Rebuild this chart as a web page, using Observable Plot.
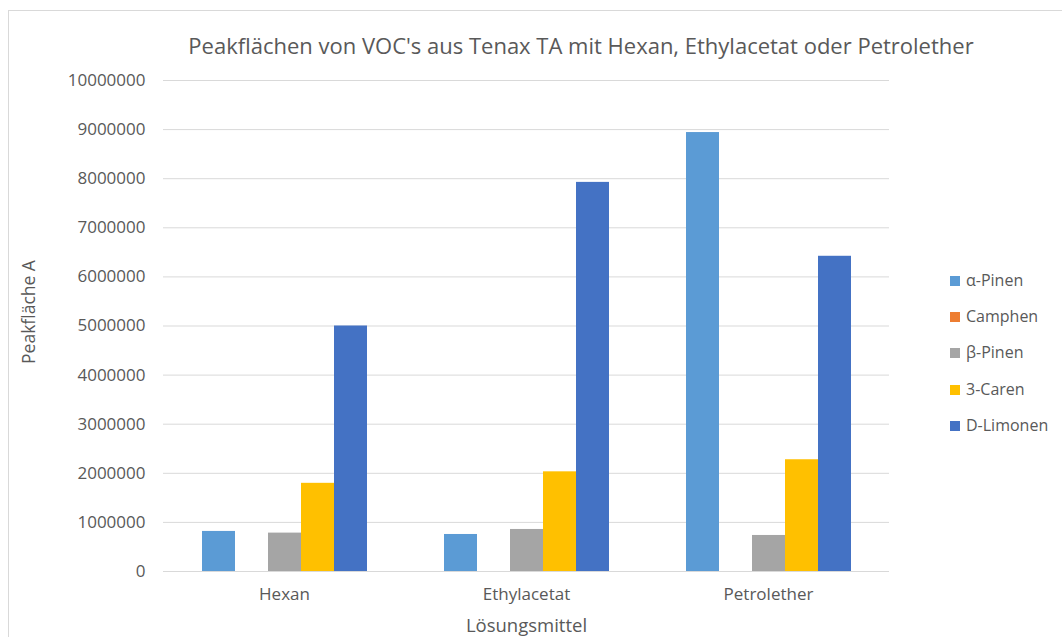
<!DOCTYPE html>
<html>
<head>
<meta charset="utf-8">
<script src="https://cdn.jsdelivr.net/npm/d3@7"></script>
<script src="https://cdn.jsdelivr.net/npm/@observablehq/plot@0.6"></script>
<style>
  html, body { margin: 0; padding: 0; background: #fff; overflow: hidden; }
  #wrap { position: relative; width: 1062px; height: 637px; font-family: "Open Sans", sans-serif; color: #595959; }
  #frame { position: absolute; left: 8px; top: 10px; width: 1100px; height: 700px; border: 1px solid #d9d9d9; box-sizing: border-box; }
  #title { position: absolute; left: 0; width: 1062px; top: 30px; text-align: center; font-size: 22px; padding-left: 100px; box-sizing: border-box; white-space: nowrap; }
  #chart { position: absolute; left: 0; top: 0; }
  #legend { position: absolute; left: 950px; top: 270px; font-size: 16px; }
  .li { position: absolute; left: 0; white-space: nowrap; height: 20px; line-height: 20px; }
  .sw { display: inline-block; width: 10px; height: 10px; margin-right: 6px; vertical-align: 0px; }
</style>
</head>
<body>
<div id="wrap">
  <div id="frame"></div>
  <div id="chart"></div>
  <div id="title">Peakflächen von VOC's aus Tenax TA mit Hexan, Ethylacetat oder Petrolether</div>
  <div id="legend"></div>
</div>
<script>
const solvents = ["Hexan", "Ethylacetat", "Petrolether"];
const compounds = ["α-Pinen", "Camphen", "β-Pinen", "3-Caren", "D-Limonen"];
const colors = ["#5B9BD5", "#ED7D31", "#A5A5A5", "#FFC000", "#4472C4"];
// values per compound, in solvent order
const alphaPinen = [816000, 754000, 8940000];
const camphen = [0, 0, 0];
const betaPinen = [782000, 856000, 734000];
const caren3 = [1796000, 2030000, 2276000];
const dLimonen = [5000000, 7925000, 6420000];
const yTicks = [0, 1000000, 2000000, 3000000, 4000000, 5000000, 6000000, 7000000, 8000000, 9000000, 10000000];

const series = [alphaPinen, camphen, betaPinen, caren3, dLimonen];
const data = [];
solvents.forEach((s, i) => compounds.forEach((c, j) => data.push({solvent: s, compound: c, value: series[j][i]})));

const chart = Plot.plot({
  width: 1062,
  height: 637,
  marginTop: 80,
  marginBottom: 66,
  marginLeft: 162,
  marginRight: 172,
  style: {fontFamily: "Open Sans, sans-serif", color: "#595959", background: "transparent"},
  fx: {domain: solvents, padding: 0, axis: null},
  x: {domain: compounds, paddingInner: 0, paddingOuter: 1.07, axis: null},
  y: {domain: [0, 10000000], axis: null},
  color: {domain: compounds, range: colors},
  marks: [
    Plot.gridY(yTicks, {stroke: "#d9d9d9", strokeOpacity: 1, strokeWidth: 1}),
    Plot.barY(data, {fx: "solvent", x: "compound", y: "value", fill: "compound", inset: 0}),
    Plot.axisY(yTicks, {tickSize: 0, tickPadding: 18, tickFormat: d => String(d), label: null, fontSize: 17, fill: "#595959"}),
    Plot.axisFx({anchor: "bottom", tickSize: 0, tickPadding: 16, label: null, fontSize: 17, fill: "#595959"}),
    Plot.text(["Lösungsmittel"], {frameAnchor: "bottom", lineAnchor: "middle", dy: 55, fontSize: 18.5, fill: "#595959", facet: "super"}),
    Plot.text(["Peakfläche A"], {frameAnchor: "left", textAnchor: "middle", lineAnchor: "middle", dx: -134, dy: -14, rotate: -90, fontSize: 17.5, fill: "#595959", facet: "super"})
  ]
});
document.getElementById("chart").appendChild(chart);

const legend = document.getElementById("legend");
compounds.forEach((c, i) => {
  const d = document.createElement("div");
  d.className = "li";
  d.style.top = (i * 36.2) + "px";
  d.innerHTML = `<span class="sw" style="background:${colors[i]}"></span>${c}`;
  legend.appendChild(d);
});
</script>
</body>
</html>
